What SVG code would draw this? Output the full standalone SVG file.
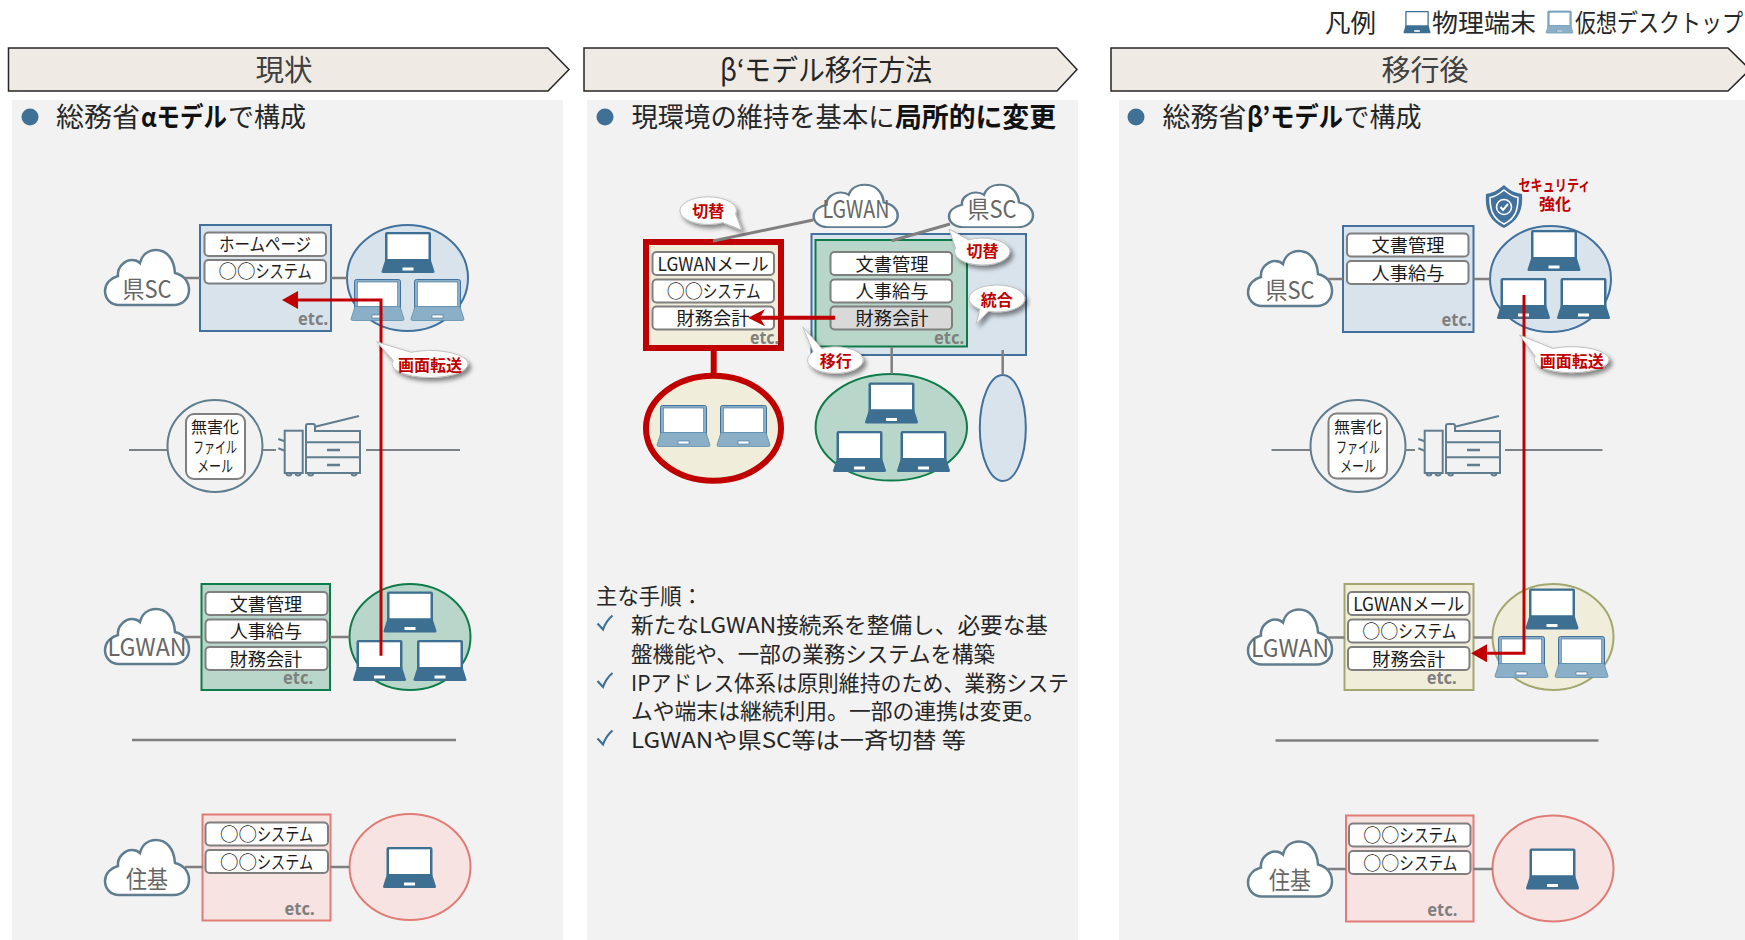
<svg xmlns="http://www.w3.org/2000/svg" width="1745" height="940" viewBox="0 0 1745 940">
<style>
text{font-family:"Noto Sans CJK JP","Noto Sans",sans-serif;fill:#1a1a1a}
.m{text-anchor:middle}
.ban{fill:#efebe4;stroke:#262626;stroke-width:1.5}
.bt{font-size:29px;fill:#404040;text-anchor:middle}
.pan{fill:#f2f2f2}
.bul{fill:#3f7096}
.h{font-size:27px;fill:#262626}
.hb{font-size:27px;font-weight:700;fill:#111}
.pill{fill:#fff;stroke:#7f7f7f;stroke-width:2}
.pillg{fill:#d9d9d9;stroke:#7f7f7f;stroke-width:2}
.p{font-size:18px;text-anchor:middle}
.ps{font-size:18px}
.etc{font-family:"Noto Sans",sans-serif;font-size:18px;font-weight:700;fill:#7f7f7f;text-anchor:end}
.cl{font-size:24px;fill:#666;text-anchor:middle}
.blue{fill:#d9e3ec;stroke:#41719c;stroke-width:2}
.green{fill:#b8d7ca;stroke:#0e7b4a;stroke-width:2}
.pink{fill:#f8e3e3;stroke:#e07b75;stroke-width:2}
.olive{fill:#f0eedb;stroke:#a3a66f;stroke-width:2}
.redb{fill:#f0eedb;stroke:#c00000;stroke-width:6}
.fw{fill:#f2f2f2;stroke:#5f7d8e;stroke-width:2}
.fp{fill:#fff;stroke:#7f7f7f;stroke-width:2}
.ft{font-size:16px;text-anchor:middle}
.g{fill:none;stroke:#7f7f7f;stroke-width:2.5}
.gt{fill:none;stroke:#7b8387;stroke-width:2}
.r{fill:none;stroke:#c00000;stroke-width:3}
.call{fill:#fff;stroke:#bfbfbf;stroke-width:1;filter:url(#sh)}
.ct{font-size:15.5px;font-weight:700;fill:#c00000;text-anchor:middle}
.st{font-size:22px;fill:#262626}
.ck{fill:none;stroke:#3f7096;stroke-width:2.2}
.lg{font-size:25px;fill:#262626}
</style>
<defs>
<filter id="sh" x="-30%" y="-30%" width="170%" height="190%"><feDropShadow dx="3" dy="3.5" stdDeviation="2" flood-color="#000" flood-opacity=".45"/></filter>
<marker id="ah" markerUnits="userSpaceOnUse" markerWidth="17" markerHeight="18" refX="1" refY="9" orient="auto"><path d="M0,0L16,9L0,18Z" fill="#c00000"/></marker>
<marker id="ahn" markerUnits="userSpaceOnUse" markerWidth="18" markerHeight="18" refX="5" refY="9" orient="auto"><path d="M0,.5L17,9L0,17.5L5,9Z" fill="#c00000"/></marker>
<g id="lp"><rect x="3.5" y="0" width="46" height="30" rx="2" fill="#3c6f91"/><rect x="6" y="2.3" width="41" height="24.7" fill="#fff"/><path d="M4,27H49L53,39.5Q53,41 51.5,41H1.5Q0,41 0,39.5Z" fill="#3c6f91"/><rect x="21" y="35.5" width="11" height="3" fill="#fff"/></g>
<g id="lv"><rect x="3.5" y="0" width="46" height="30" rx="2" fill="#8bafc6" stroke="#41719c" stroke-width="1"/><rect x="6.3" y="2.5" width="40.4" height="24.5" fill="#fff" stroke="#41719c" stroke-width=".6"/><path d="M4,27H49L53,39.5Q53,41 51.5,41H1.5Q0,41 0,39.5Z" fill="#8bafc6" stroke="#5e8fae" stroke-width=".8"/><rect x="21" y="35.5" width="11" height="3" fill="#fff" stroke="#41719c" stroke-width=".6"/></g>
<path id="cloud" d="M15,56C6,56 1,49 1,42C1,34 7,29 14,27C13,18 21,11 28,11C31,11 34,12 36,14C38,6 44,1 52,1C62,1 70,9 71,24C80,26 85,33 85,41C85,50 78,56 70,56Z" fill="#fff" stroke="#5f7d8e" stroke-width="2.5"/>
<g id="printer" fill="none" stroke="#5f7d8e" stroke-width="2"><rect x="6.7" y="14.7" width="18" height="42.3"/><path d="M28,57V10Q28,8 30,8H35Q37,8 37,10V15H82V57ZM37,10.7L81,0M28,26.3H82M28,41.3H82"/><path d="M49,34H62M49,49H62" stroke-width="2.4"/><path d="M.3,23L6.7,25.3M.3,32.3L6.7,34.7"/><path d="M8.5,57a2.5,2.5 0 0 0 5,0M17.5,57a2.5,2.5 0 0 0 5,0M30.2,57a2.5,2.5 0 0 0 5,0M73.5,57a2.5,2.5 0 0 0 5,0"/></g>
<path id="ck" class="ck" d="M597.5,623.5L603,629.5Q606,621 612.5,615.5"/>
</defs>

<rect width="1745" height="940" fill="#fff"/>

<g id="panels">
<rect class="pan" x="12" y="100" width="551" height="840"/>
<rect class="pan" x="587" y="100" width="491" height="840"/>
<rect class="pan" x="1119" y="100" width="626" height="840"/>
</g>

<g id="legend">
<text class="lg" x="1325" y="32" textLength="51" lengthAdjust="spacingAndGlyphs">凡例</text>
<use href="#lp" transform="translate(1403.5,11) scale(.51,.54)"/>
<text class="lg" x="1432" y="32" textLength="104" lengthAdjust="spacingAndGlyphs">物理端末</text>
<use href="#lv" transform="translate(1546,11) scale(.51,.54)"/>
<text class="lg" x="1575" y="32" textLength="168" lengthAdjust="spacingAndGlyphs">仮想デスクトップ</text>
</g>

<g id="banner-1"><path class="ban" d="M8.5,48H548L569,69.5L548,91H8.5Z"/><text class="bt" x="284" y="81" textLength="57" lengthAdjust="spacingAndGlyphs">現状</text></g>
<g id="banner-2"><path class="ban" d="M584,48H1057L1077,69.5L1057,91H584Z"/><text class="bt" x="826" y="81" textLength="212" lengthAdjust="spacingAndGlyphs" style="fill:#262626">β‘モデル移行方法</text></g>
<g id="banner-3"><path class="ban" d="M1111,48H1728L1750,69.5L1728,91H1111Z"/><text class="bt" x="1425" y="81" textLength="87" lengthAdjust="spacingAndGlyphs">移行後</text></g>

<g id="heading-1"><circle class="bul" cx="30" cy="117" r="8.5"/>
<text class="h" x="56" y="127" textLength="84" lengthAdjust="spacingAndGlyphs">総務省</text><text class="hb" x="141" y="127" textLength="86" lengthAdjust="spacingAndGlyphs">αモデル</text><text class="h" x="228" y="127" textLength="78" lengthAdjust="spacingAndGlyphs">で構成</text></g>
<g id="heading-2"><circle class="bul" cx="605" cy="117" r="8.5"/>
<text class="h" x="631.5" y="127" textLength="263" lengthAdjust="spacingAndGlyphs">現環境の維持を基本に</text><text class="hb" x="895" y="127" textLength="161" lengthAdjust="spacingAndGlyphs">局所的に変更</text></g>
<g id="heading-3"><circle class="bul" cx="1136" cy="117" r="8.5"/>
<text class="h" x="1162.5" y="127" textLength="84" lengthAdjust="spacingAndGlyphs">総務省</text><text class="hb" x="1247" y="127" textLength="96" lengthAdjust="spacingAndGlyphs">β’モデル</text><text class="h" x="1343.5" y="127" textLength="78" lengthAdjust="spacingAndGlyphs">で構成</text></g>

<!-- Panel 1 -->
<g id="p1-cloud-ken"><use href="#cloud" x="104" y="249"/><text class="cl" x="147" y="298" textLength="49" lengthAdjust="spacingAndGlyphs">県SC</text></g>
<g id="p1-sys-ken"><rect class="blue" x="200" y="225" width="131" height="106"/>
<rect class="pill" x="204.5" y="232.5" width="121.5" height="23.5" rx="4"/><rect class="pill" x="204.5" y="260" width="121.5" height="23.5" rx="4"/>
<text class="p" x="265" y="251" textLength="92" lengthAdjust="spacingAndGlyphs">ホームページ</text><text class="ps" x="218.5" y="278"><tspan textLength="37" lengthAdjust="spacingAndGlyphs">○○</tspan><tspan textLength="56" lengthAdjust="spacingAndGlyphs">システム</tspan></text><text class="etc" x="328" y="325" textLength="30" lengthAdjust="spacingAndGlyphs">etc.</text></g>
<g id="p1-pc-ken"><ellipse class="blue" cx="407.5" cy="278" rx="60.5" ry="53"/><use href="#lp" x="381.5" y="232"/><use href="#lv" x="351" y="279.5"/><use href="#lv" x="411" y="279.5"/></g>
<g id="p1-mail"><ellipse class="fw" cx="215" cy="446" rx="47.5" ry="46"/><rect class="fp" x="186" y="414" width="59" height="65" rx="8"/>
<text class="ft" x="215" y="433" textLength="48" lengthAdjust="spacingAndGlyphs">無害化</text><text class="ft" x="215" y="453" textLength="44" lengthAdjust="spacingAndGlyphs">ファイル</text><text class="ft" x="215" y="472" textLength="36" lengthAdjust="spacingAndGlyphs">メール</text></g>
<g id="p1-printer"><use href="#printer" x="278" y="416"/></g>
<g id="p1-cloud-lgwan"><use href="#cloud" x="104" y="608"/><text class="cl" x="147" y="656" textLength="79" lengthAdjust="spacingAndGlyphs">LGWAN</text></g>
<g id="p1-sys-lgwan"><rect class="green" x="201.5" y="584" width="128.5" height="106"/>
<rect class="pill" x="205.5" y="592" width="122" height="23" rx="4"/><rect class="pill" x="205.5" y="619.5" width="122" height="23" rx="4"/><rect class="pill" x="205.5" y="647" width="122" height="23" rx="4"/>
<text class="p" x="266" y="610.5" textLength="72.5" lengthAdjust="spacingAndGlyphs">文書管理</text><text class="p" x="266" y="638" textLength="72.5" lengthAdjust="spacingAndGlyphs">人事給与</text><text class="p" x="266" y="665.5" textLength="72.5" lengthAdjust="spacingAndGlyphs">財務会計</text><text class="etc" x="313" y="684" textLength="30" lengthAdjust="spacingAndGlyphs">etc.</text></g>
<g id="p1-pc-lgwan"><ellipse class="green" cx="410" cy="637" rx="60.5" ry="53"/><use href="#lp" x="383.5" y="591.5"/><use href="#lp" x="353" y="640"/><use href="#lp" x="413.5" y="640"/></g>
<g id="p1-cloud-juki"><use href="#cloud" x="104" y="839"/><text class="cl" x="147" y="888" textLength="42" lengthAdjust="spacingAndGlyphs">住基</text></g>
<g id="p1-sys-juki"><rect class="pink" x="202.5" y="814.5" width="128" height="106"/>
<rect class="pill" x="205.5" y="822.5" width="122.5" height="23" rx="4"/><rect class="pill" x="205.5" y="850" width="122.5" height="23" rx="4"/>
<text class="ps" x="220" y="841"><tspan textLength="37" lengthAdjust="spacingAndGlyphs">○○</tspan><tspan textLength="56" lengthAdjust="spacingAndGlyphs">システム</tspan></text><text class="ps" x="220" y="868.5"><tspan textLength="37" lengthAdjust="spacingAndGlyphs">○○</tspan><tspan textLength="56" lengthAdjust="spacingAndGlyphs">システム</tspan></text><text class="etc" x="314.5" y="915" textLength="30" lengthAdjust="spacingAndGlyphs">etc.</text></g>
<g id="p1-pc-juki"><ellipse class="pink" cx="410" cy="867" rx="60.5" ry="53"/><use href="#lp" x="383" y="847"/></g>

<!-- Panel 2 -->
<g id="p2-sys-new"><rect class="redb" x="646" y="242" width="135" height="106"/>
<rect class="pill" x="652.5" y="252" width="121.5" height="23" rx="4"/><rect class="pill" x="652.5" y="279.5" width="121.5" height="23" rx="4"/><rect class="pill" x="652.5" y="306.5" width="121.5" height="23" rx="4"/>
<text class="p" x="713" y="270.5" textLength="111" lengthAdjust="spacingAndGlyphs">LGWANメール</text><text class="ps" x="666.7" y="297.5"><tspan textLength="36" lengthAdjust="spacingAndGlyphs">○○</tspan><tspan textLength="58" lengthAdjust="spacingAndGlyphs">システム</tspan></text><text class="p" x="713" y="325" textLength="73" lengthAdjust="spacingAndGlyphs">財務会計</text><text class="etc" x="779" y="344" textLength="29" lengthAdjust="spacingAndGlyphs">etc.</text></g>
<g id="p2-pc-new"><ellipse class="redb" cx="713.5" cy="428.3" rx="67.5" ry="52.5"/><use href="#lv" x="657" y="405.5"/><use href="#lv" x="717" y="405.5"/></g>
<g id="p2-sys-ken"><rect class="blue" x="811.5" y="234" width="214.5" height="121"/></g>
<g id="p2-sys-cur"><rect class="green" x="815.5" y="240" width="151.5" height="106.5"/>
<rect class="pill" x="830.5" y="252" width="121.5" height="23" rx="4"/><rect class="pill" x="830.5" y="279.5" width="121.5" height="23" rx="4"/><rect class="pillg" x="830.5" y="306.5" width="121.5" height="23" rx="4"/>
<text class="p" x="892" y="270.5" textLength="73" lengthAdjust="spacingAndGlyphs">文書管理</text><text class="p" x="892" y="297.5" textLength="73" lengthAdjust="spacingAndGlyphs">人事給与</text><text class="p" x="892" y="325" textLength="73" lengthAdjust="spacingAndGlyphs">財務会計</text><text class="etc" x="964" y="344" textLength="30" lengthAdjust="spacingAndGlyphs">etc.</text></g>
<g id="p2-pc-cur"><ellipse class="green" cx="891.3" cy="427.3" rx="75.7" ry="53.3"/><use href="#lp" x="865" y="382.5"/><use href="#lp" x="833" y="431"/><use href="#lp" x="897" y="431"/></g>
<g id="p2-pc-ken"><ellipse class="blue" cx="1002.8" cy="428" rx="23" ry="53"/></g>
<g id="p2-cloud-lgwan"><use href="#cloud" transform="translate(812.7,184) scale(1,.77)"/><text class="cl" x="856" y="218" textLength="67" lengthAdjust="spacingAndGlyphs">LGWAN</text></g>
<g id="p2-cloud-ken"><use href="#cloud" transform="translate(948,184) scale(1,.77)"/><text class="cl" x="992" y="218" textLength="49" lengthAdjust="spacingAndGlyphs">県SC</text></g>

<g id="p2-steps">
<text class="st" x="596" y="604" textLength="107" lengthAdjust="spacingAndGlyphs">主な手順：</text>
<use href="#ck"/><use href="#ck" y="57.5"/><use href="#ck" y="115"/>
<text class="st" x="631" y="633" textLength="417" lengthAdjust="spacingAndGlyphs">新たなLGWAN接続系を整備し、必要な基</text>
<text class="st" x="631" y="661.5" textLength="364" lengthAdjust="spacingAndGlyphs">盤機能や、一部の業務システムを構築</text>
<text class="st" x="631" y="690.5" textLength="438" lengthAdjust="spacingAndGlyphs">IPアドレス体系は原則維持のため、業務システ</text>
<text class="st" x="631" y="719" textLength="414" lengthAdjust="spacingAndGlyphs">ムや端末は継続利用。一部の連携は変更。</text>
<text class="st" x="631" y="748" textLength="335" lengthAdjust="spacingAndGlyphs">LGWANや県SC等は一斉切替 等</text>
</g>

<!-- Panel 3 -->
<g id="p3-cloud-ken"><use href="#cloud" x="1247" y="250"/><text class="cl" x="1290" y="299" textLength="49" lengthAdjust="spacingAndGlyphs">県SC</text></g>
<g id="p3-sys-ken"><rect class="blue" x="1343" y="226" width="130.5" height="106"/>
<rect class="pill" x="1347" y="233.5" width="121.5" height="23" rx="4"/><rect class="pill" x="1347" y="261" width="121.5" height="23" rx="4"/>
<text class="p" x="1408" y="252" textLength="73" lengthAdjust="spacingAndGlyphs">文書管理</text><text class="p" x="1408" y="279.5" textLength="73" lengthAdjust="spacingAndGlyphs">人事給与</text><text class="etc" x="1471.5" y="326" textLength="30" lengthAdjust="spacingAndGlyphs">etc.</text></g>
<g id="p3-pc-ken"><ellipse class="blue" cx="1550.5" cy="279" rx="60.5" ry="53"/><use href="#lp" x="1527.5" y="230"/><use href="#lp" x="1497" y="278"/><use href="#lp" x="1557" y="278"/></g>
<g id="p3-shield"><path d="M1504,185C1497,191 1492,193 1486,194C1485,208 1488,220 1504,228C1520,220 1523,208 1522,194C1516,193 1510,191 1504,185Z" fill="#41719c"/>
<path d="M1504,190C1498,195 1494,197 1490,197.5C1490,209 1492,218 1504,224C1516,218 1518,209 1518,197.5C1514,197 1510,195 1504,190Z" fill="none" stroke="#fff" stroke-width="1.6"/>
<circle cx="1504" cy="207" r="7.5" fill="none" stroke="#fff" stroke-width="1.6"/><path d="M1500.5,207L1503,210L1508,204" fill="none" stroke="#fff" stroke-width="2"/></g>
<g id="p3-security"><text class="ct" x="1554.5" y="190.5" textLength="72" lengthAdjust="spacingAndGlyphs">セキュリティ</text><text class="ct" x="1555" y="209.5" textLength="32" lengthAdjust="spacingAndGlyphs">強化</text></g>
<g id="p3-mail"><ellipse class="fw" cx="1358" cy="446" rx="47.5" ry="46"/><rect class="fp" x="1328.5" y="413.5" width="58.5" height="65" rx="8"/>
<text class="ft" x="1358" y="433" textLength="48" lengthAdjust="spacingAndGlyphs">無害化</text><text class="ft" x="1358" y="453" textLength="44" lengthAdjust="spacingAndGlyphs">ファイル</text><text class="ft" x="1358" y="472" textLength="36" lengthAdjust="spacingAndGlyphs">メール</text></g>
<g id="p3-printer"><use href="#printer" x="1418" y="416"/></g>
<g id="p3-cloud-lgwan"><use href="#cloud" x="1247" y="608.5"/><text class="cl" x="1290" y="657" textLength="78" lengthAdjust="spacingAndGlyphs">LGWAN</text></g>
<g id="p3-sys-lgwan"><rect class="olive" x="1344.5" y="584" width="129" height="106"/>
<rect class="pill" x="1348" y="592" width="121.5" height="23" rx="4"/><rect class="pill" x="1348" y="619.5" width="121.5" height="23" rx="4"/><rect class="pill" x="1348" y="647" width="121.5" height="23" rx="4"/>
<text class="p" x="1408.7" y="610.5" textLength="111" lengthAdjust="spacingAndGlyphs">LGWANメール</text><text class="ps" x="1362.3" y="638"><tspan textLength="36" lengthAdjust="spacingAndGlyphs">○○</tspan><tspan textLength="58" lengthAdjust="spacingAndGlyphs">システム</tspan></text><text class="p" x="1408.7" y="665.5" textLength="73" lengthAdjust="spacingAndGlyphs">財務会計</text><text class="etc" x="1456.7" y="684" textLength="30" lengthAdjust="spacingAndGlyphs">etc.</text></g>
<g id="p3-pc-lgwan"><ellipse class="olive" cx="1553" cy="637" rx="60.5" ry="53"/><use href="#lp" x="1525.5" y="588.5"/><use href="#lv" x="1495" y="636.5"/><use href="#lv" x="1555" y="636.5"/></g>
<g id="p3-cloud-juki"><use href="#cloud" x="1247" y="840.5"/><text class="cl" x="1290" y="888.5" textLength="42" lengthAdjust="spacingAndGlyphs">住基</text></g>
<g id="p3-sys-juki"><rect class="pink" x="1346" y="815.5" width="127.5" height="106"/>
<rect class="pill" x="1349" y="823.5" width="121.5" height="23" rx="4"/><rect class="pill" x="1349" y="851" width="121.5" height="23" rx="4"/>
<text class="ps" x="1363.3" y="842"><tspan textLength="36" lengthAdjust="spacingAndGlyphs">○○</tspan><tspan textLength="58" lengthAdjust="spacingAndGlyphs">システム</tspan></text><text class="ps" x="1363.3" y="869.5"><tspan textLength="36" lengthAdjust="spacingAndGlyphs">○○</tspan><tspan textLength="58" lengthAdjust="spacingAndGlyphs">システム</tspan></text><text class="etc" x="1457.3" y="916" textLength="30" lengthAdjust="spacingAndGlyphs">etc.</text></g>
<g id="p3-pc-juki"><ellipse class="pink" cx="1553" cy="868.5" rx="60.5" ry="53"/><use href="#lp" x="1526" y="848.5"/></g>

<g id="connectors">
<path class="g" d="M185,278H200M331,278H347M185,637H201.5M330,637H349.5M185,867H202.5M330.5,867H349.5"/>
<path class="g" d="M132,740H456"/>
<path class="gt" d="M129,450H167.5M262.5,450H276M366,450H460"/>
<path class="g" style="stroke-width:3" d="M713,241L813,220M950,224L891.7,240.7"/>
<path class="g" d="M891.7,347V374M1002.7,350V375"/>
<path d="M713.7,351V373" fill="none" stroke="#c00000" stroke-width="6"/>
<path class="g" d="M1328,279H1343M1473.5,279H1490M1328,637.5H1344.5M1473.5,637.5H1492.5M1328,869H1346M1473.5,869H1492.5"/>
<path class="g" d="M1275.5,740.5H1598.5"/>
<path class="gt" d="M1271.5,450H1310.5M1405.5,450H1415M1505,450H1602.5"/>
<path class="r" d="M381,655.7V300H297" marker-end="url(#ah)"/>
<path class="r" style="stroke-width:4" d="M835,317.7H760" marker-end="url(#ahn)"/>
<path class="r" d="M1524,295V653.3H1486" marker-end="url(#ah)"/>
</g>

<g id="call-transfer-1"><path class="call" d="M376.6,341.7L411,352.3A38,13.5 0 1 1 393.3,360.5Z"/><text class="ct" x="430" y="370.5" textLength="64" lengthAdjust="spacingAndGlyphs">画面転送</text></g>
<g id="call-switch-1"><path class="call" d="M741.7,230L722.5,222.5A28.3,13.8 0 1 1 735.6,214Z"/><text class="ct" x="708.3" y="216.5" textLength="32" lengthAdjust="spacingAndGlyphs">切替</text></g>
<g id="call-switch-2"><path class="call" d="M949,229L968.5,239.8A27.7,13.5 0 1 1 955.5,248Z"/><text class="ct" x="982.5" y="257" textLength="32" lengthAdjust="spacingAndGlyphs">切替</text></g>
<g id="call-merge"><path class="call" d="M976,324L980,309.2A28,13.5 0 1 1 988.3,311.3Z"/><text class="ct" x="996.7" y="305.5" textLength="32" lengthAdjust="spacingAndGlyphs">統合</text></g>
<g id="call-move"><path class="call" d="M802.7,326.7L821.7,348.5A27.8,13.3 0 1 1 813.3,352Z"/><text class="ct" x="835.7" y="366.5" textLength="32" lengthAdjust="spacingAndGlyphs">移行</text></g>
<g id="call-transfer-3"><path class="call" d="M1519.6,335L1552.8,348.4A37.5,13 0 1 1 1535.3,356.3Z"/><text class="ct" x="1571.8" y="366.5" textLength="64" lengthAdjust="spacingAndGlyphs">画面転送</text></g>
</svg>
